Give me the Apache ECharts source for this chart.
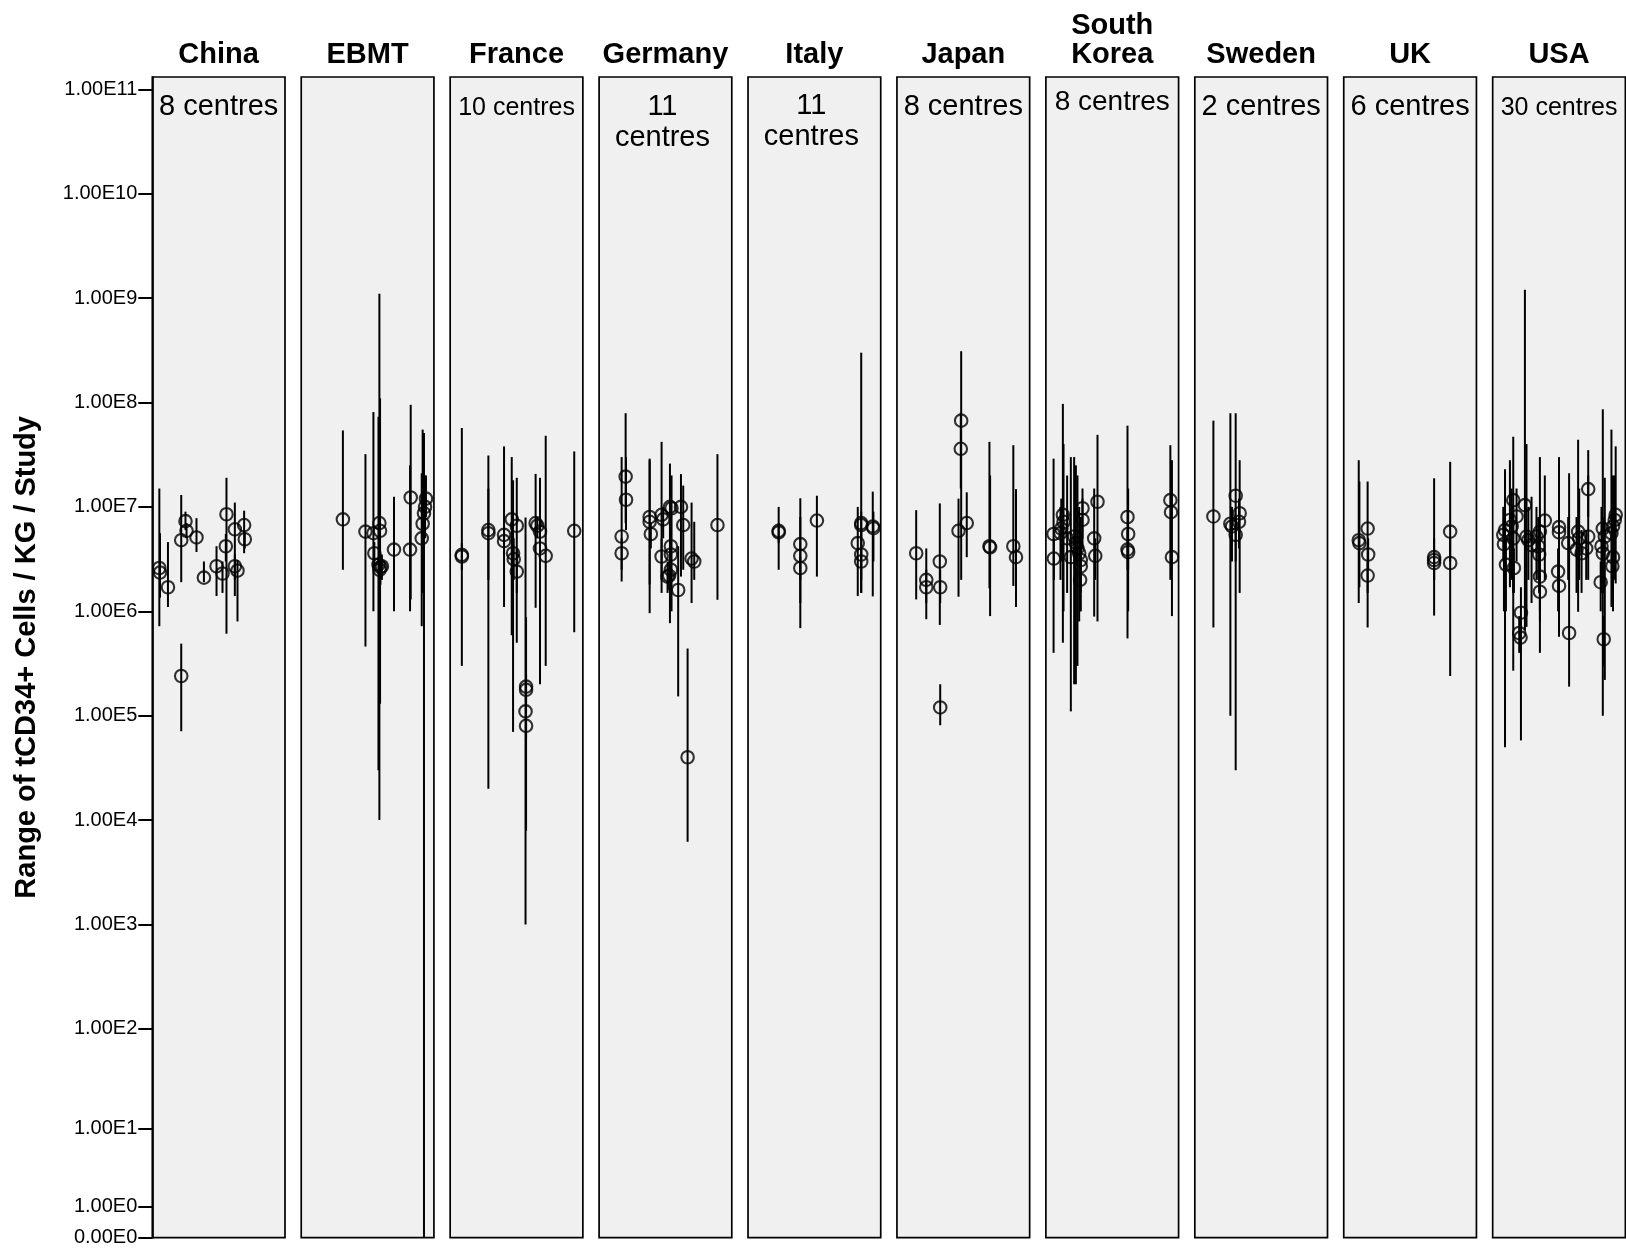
<!DOCTYPE html>
<html>
<head>
<meta charset="utf-8">
<script src="https://cdn.jsdelivr.net/npm/echarts@6/dist/echarts.min.js"></script>
<style>
html,body{margin:0;padding:0;background:#fff;}
#chart{width:1626px;height:1254px;}
</style>
</head>
<body>
<div id="chart"></div>
<script>
// ---------- data ----------
const countries = ['China', 'EBMT', 'France', 'Germany', 'Italy', 'Japan', 'South\nKorea', 'Sweden', 'UK', 'USA'];
const centreNotes = ['8 centres', '', '10 centres', '11\ncentres', '11\ncentres', '8 centres', '8 centres', '2 centres', '6 centres', '30 centres'];
const tickValues = [0, 1, 1e1, 1e2, 1e3, 1e4, 1e5, 1e6, 1e7, 1e8, 1e9, 1e10, 1e11];
const tickLabels = ['0.00E0', '1.00E0', '1.00E1', '1.00E2', '1.00E3', '1.00E4', '1.00E5', '1.00E6', '1.00E7', '1.00E8', '1.00E9', '1.00E10', '1.00E11'];

// each study: [position in panel, cells/kg, range low, range high]
const china = [
  [5.3, 2.6e6, 7.2e5, 1.5e7], [5.8, 2.35e6, 1.35e6, 5.6e6], [11.8, 1.7e6, 1.1e6, 4.6e6],
  [21.8, 4.8e6, 1.9e6, 1.3e7], [25.0, 7.3e6, 6.0e6, 9.0e6], [25.8, 5.9e6, 5.0e6, 7.0e6],
  [33.3, 5.1e6, 3.7e6, 7.8e6], [38.9, 2.1e6, 1.9e6, 3.0e6], [21.8, 2.4e5, 7.1e4, 4.9e5],
  [48.4, 2.7e6, 1.4e6, 4.2e6], [52.9, 2.3e6, 1.5e6, 3.0e6], [55.9, 8.5e6, 6.1e5, 1.9e7],
  [55.4, 4.2e6, 3.0e6, 5.5e6], [62.2, 6.1e6, 1.4e6, 1.1e7], [62.2, 2.7e6, 2.0e6, 3.5e6],
  [64.2, 2.45e6, 8.0e5, 3.1e6], [69.2, 6.7e6, 3.6e6, 9.2e6], [69.7, 4.9e6, 4.0e6, 5.8e6]
];
const ebmt = [
  [31.4, 7.6e6, 2.5e6, 5.4e7], [48.4, 5.8e6, 4.6e5, 3.2e7], [54.4, 5.6e6, 1.0e6, 8.1e7],
  [55.1, 3.6e6, 2.8e6, 4.6e6], [58.9, 7.0e6, 1.0e4, 1.1e9], [59.4, 5.9e6, 1.3e5, 1.1e8],
  [58.2, 2.8e6, 3.0e4, 7.3e7], [59.7, 2.65e6, 1.8e6, 3.5e6], [60.8, 2.7e6, 2.0e6, 3.5e6],
  [59.0, 2.5e6, 1.8e6, 3.2e6], [69.9, 3.9e6, 1.0e6, 1.25e7], [82.5, 1.23e7, 1.3e6, 9.5e7],
  [82.0, 3.9e6, 1.0e6, 2.5e7], [90.8, 5.0e6, 7.2e5, 2.1e7], [91.5, 6.9e6, 1.5e6, 5.5e7],
  [92.5, 8.7e6, 0, 5.1e7], [93.3, 1.0e7, 5.0e6, 2.0e7], [94.0, 1.2e7, 8.0e6, 2.0e7]
];
const france = [
  [8.8, 3.47e6, 3.0e5, 5.7e7], [8.8, 3.35e6, 2.5e6, 4.5e6], [28.8, 6.0e6, 2.0e4, 3.1e7],
  [28.8, 5.6e6, 2.0e6, 1.5e7], [40.6, 5.4e6, 1.1e6, 3.8e7], [40.6, 4.7e6, 3.5e6, 6.0e6],
  [46.4, 7.6e6, 5.9e5, 3.0e7], [47.4, 3.6e6, 7.0e4, 1.8e7], [47.9, 3.16e6, 2.0e6, 5.0e6],
  [50.2, 6.6e6, 5.0e5, 1.9e7], [50.2, 2.4e6, 1.5e6, 4.0e6], [57.2, 1.9e5, 7.9e3, 8.8e5],
  [57.2, 1.77e5, 1.2e5, 2.5e5], [56.8, 1.1e5, 1.0e3, 7.9e6], [57.2, 8.0e4, 6.0e4, 1.0e5],
  [64.4, 7.0e6, 1.08e6, 2.07e7], [65.7, 6.6e6, 5.0e6, 8.0e6], [67.7, 5.8e6, 2.0e5, 1.9e7],
  [67.7, 4.0e6, 3.0e6, 5.0e6], [72.0, 3.4e6, 3.0e5, 4.8e7], [93.5, 5.9e6, 6.3e5, 3.4e7]
];
const germany = [
  [20.0, 1.95e7, 7.0e6, 7.9e7], [20.3, 1.17e7, 6.0e6, 3.0e7], [17.0, 5.2e6, 1.93e6, 3.0e7],
  [17.0, 3.6e6, 2.5e6, 5.0e6], [38.1, 8.0e6, 1.8e6, 2.9e7], [38.1, 7.2e6, 9.6e5, 2.8e7],
  [39.0, 5.5e6, 4.0e6, 7.0e6], [47.1, 8.4e6, 1.5e6, 4.2e7], [48.3, 7.6e6, 5.0e6, 1.0e7],
  [53.4, 1.0e7, 7.7e5, 2.6e7], [54.6, 9.7e6, 1.0e6, 2.0e7], [61.7, 1.0e7, 2.15e6, 2.06e7],
  [63.4, 6.7e6, 2.5e6, 1.6e7], [47.1, 3.35e6, 2.0e6, 5.0e6], [54.1, 4.2e6, 3.0e6, 6.0e6],
  [54.1, 3.5e6, 2.5e6, 5.0e6], [54.1, 2.5e6, 1.8e6, 3.5e6], [51.6, 2.15e6, 1.5e6, 3.0e6],
  [52.8, 2.2e6, 1.6e6, 3.0e6], [59.6, 1.6e6, 1.53e5, 4.2e6], [69.7, 3.2e6, 1.2e6, 1.1e7],
  [71.7, 3.0e6, 2.0e6, 7.2e6], [66.7, 4.0e4, 6.2e3, 4.4e5], [89.2, 6.7e6, 1.29e6, 3.2e7]
];
const italy = [
  [23.1, 5.9e6, 2.5e6, 1.0e7], [23.1, 5.7e6, 4.5e6, 7.0e6], [39.4, 4.4e6, 6.9e5, 1.21e7],
  [39.4, 3.4e6, 1.2e6, 8.0e6], [39.4, 2.6e6, 2.0e6, 3.3e6], [51.9, 7.4e6, 2.15e6, 1.28e7],
  [85.3, 7.0e6, 1.5e6, 3.0e8], [85.3, 6.7e6, 5.0e6, 9.0e6], [82.7, 4.5e6, 1.4e6, 1.0e7],
  [85.3, 3.5e6, 1.5e6, 6.0e6], [85.3, 3.0e6, 2.0e6, 4.0e6], [94.0, 6.5e6, 1.39e6, 1.4e7],
  [94.5, 6.25e6, 3.0e6, 9.0e6]
];
const japan = [
  [14.5, 3.6e6, 1.3e6, 9.3e6], [22.1, 2.0e6, 8.4e5, 4.0e6], [22.1, 1.7e6, 1.2e6, 2.5e6],
  [32.3, 3.0e6, 7.4e5, 1.08e7], [32.6, 1.7e6, 1.2e6, 2.5e6], [32.6, 1.2e5, 8.1e4, 2.0e5],
  [48.4, 6.7e7, 2.0e6, 3.1e8], [48.1, 3.6e7, 1.5e7, 8.0e7], [46.4, 5.9e6, 1.38e6, 1.2e7],
  [52.6, 7.0e6, 3.3e6, 1.38e7], [69.7, 4.2e6, 1.66e6, 4.2e7], [70.2, 4.1e6, 9.0e5, 2.0e7],
  [87.7, 4.2e6, 1.75e6, 3.9e7], [89.7, 3.3e6, 1.1e6, 1.48e7]
];
const southKorea = [
  [5.8, 5.5e6, 4.0e5, 2.9e7], [6.0, 3.2e6, 2.0e6, 5.0e6], [12.8, 8.4e6, 5.0e5, 9.7e7],
  [13.3, 7.2e6, 1.0e6, 4.0e7], [11.6, 6.2e6, 3.0e6, 1.2e7], [11.0, 5.6e6, 2.0e6, 1.0e7],
  [16.0, 5.0e6, 1.5e6, 2.0e7], [18.8, 3.3e6, 1.1e5, 3.0e7], [21.3, 5.2e6, 2.0e5, 3.0e7],
  [22.6, 4.5e6, 2.0e5, 2.5e7], [23.8, 4.0e6, 3.0e5, 2.0e7], [25.1, 3.6e6, 8.0e5, 1.0e7],
  [26.3, 3.1e6, 1.0e6, 8.0e6], [26.3, 2.7e6, 1.5e6, 5.0e6], [25.8, 2.0e6, 1.0e6, 3.0e6],
  [27.6, 9.7e6, 5.0e6, 1.5e7], [27.6, 7.5e6, 4.0e6, 1.2e7], [36.4, 5.0e6, 8.9e5, 1.5e7],
  [37.2, 3.4e6, 2.0e6, 5.0e6], [38.9, 1.12e7, 8.0e5, 4.9e7], [61.5, 8.0e6, 5.5e5, 6.0e7],
  [62.0, 5.5e6, 1.0e6, 1.5e7], [61.5, 3.9e6, 2.5e6, 6.0e6], [62.0, 3.7e6, 2.5e6, 5.0e6],
  [93.8, 1.16e7, 2.0e6, 3.9e7], [94.3, 8.9e6, 4.0e6, 2.0e7], [95.0, 3.3e6, 9.0e5, 2.8e7]
];
const sweden = [
  [14.0, 8.1e6, 7.0e5, 6.7e7], [30.8, 1.28e7, 3.0e4, 7.9e7], [33.8, 8.7e6, 1.5e6, 2.8e7],
  [33.3, 7.2e6, 4.0e6, 1.2e7], [26.8, 6.9e6, 1.0e5, 7.9e7], [28.0, 6.5e6, 3.0e6, 1.0e7],
  [30.8, 5.4e6, 3.0e6, 8.0e6]
];
const uk = [
  [11.3, 4.8e6, 1.2e6, 2.8e7], [11.8, 4.5e6, 1.7e6, 1.75e7], [18.0, 6.2e6, 7.0e5, 1.75e7],
  [18.4, 3.5e6, 2.5e6, 5.0e6], [18.0, 2.2e6, 1.5e6, 3.0e6], [68.1, 3.3e6, 9.1e5, 1.88e7],
  [68.1, 3.1e6, 2.0e6, 5.0e6], [68.1, 2.9e6, 2.0e6, 4.0e6], [80.2, 5.8e6, 3.0e6, 2.7e7],
  [80.2, 2.9e6, 2.4e5, 5.0e6]
];
const usa = [
  [9.3, 6.0e6, 5.0e4, 2.3e7], [8.0, 5.4e6, 3.0e6, 1.0e7], [8.5, 4.4e6, 1.0e6, 1.0e7],
  [10.0, 2.8e6, 1.0e6, 5.0e6], [15.5, 1.16e7, 2.7e5, 4.7e7], [13.0, 7.5e6, 1.7e6, 2.8e7],
  [14.3, 6.5e6, 2.0e6, 1.5e7], [15.5, 5.0e6, 1.5e6, 1.0e7], [16.0, 2.6e6, 1.5e6, 4.0e6],
  [18.0, 8.1e6, 3.0e6, 1.5e7], [24.3, 1.04e7, 6.6e5, 1.2e9], [21.3, 9.7e5, 5.8e4, 1.7e6],
  [20.0, 6.2e5, 4.0e5, 9.0e5], [21.0, 5.6e5, 4.0e5, 8.0e5], [25.5, 5.2e6, 7.1e5, 4.0e7],
  [26.9, 4.8e6, 2.0e6, 1.0e7], [29.3, 4.3e6, 1.2e6, 1.25e7], [35.6, 5.8e6, 4.0e5, 3.0e7],
  [39.3, 7.4e6, 2.0e6, 2.0e7], [33.0, 5.2e6, 2.0e6, 1.0e7], [35.0, 3.5e6, 1.5e6, 8.0e6],
  [35.6, 2.15e6, 1.0e6, 4.0e6], [35.6, 1.54e6, 8.0e5, 3.0e6], [34.4, 4.2e6, 2.0e6, 8.0e6],
  [50.0, 6.4e6, 5.7e5, 3.0e7], [50.0, 5.7e6, 7.0e5, 1.2e7], [49.3, 2.4e6, 1.0e6, 4.0e6],
  [50.0, 1.75e6, 1.0e6, 3.0e6], [57.6, 6.2e5, 1.9e5, 2.1e7], [56.9, 4.5e6, 2.0e6, 8.0e6],
  [64.4, 5.8e6, 9.9e5, 4.4e7], [65.2, 5.0e6, 2.0e6, 1.5e7], [63.2, 3.9e6, 1.5e6, 8.0e6],
  [67.0, 3.6e6, 1.5e6, 6.0e6], [72.0, 5.2e6, 2.0e6, 3.5e7], [72.0, 1.48e7, 8.0e6, 2.0e7],
  [70.5, 4.0e6, 2.0e6, 6.0e6], [92.7, 8.4e6, 1.85e6, 3.8e7], [92.0, 7.5e6, 2.0e6, 2.0e7],
  [90.7, 6.5e6, 1.0e6, 2.0e7], [89.5, 5.6e6, 1.1e6, 5.5e7], [83.0, 6.2e6, 1.0e5, 8.6e7],
  [84.5, 5.2e6, 2.2e5, 1.9e7], [82.0, 4.2e6, 1.5e6, 1.0e7], [83.0, 3.6e6, 1.5e6, 8.0e6],
  [90.7, 3.3e6, 1.5e6, 8.0e6], [90.2, 2.7e6, 1.5e6, 5.0e6], [81.4, 1.9e6, 1.0e6, 3.0e6],
  [83.7, 5.4e5, 3.0e5, 9.0e5]
];
const panels = [china, ebmt, france, germany, italy, japan, southKorea, sweden, uk, usa];

// ---------- scale: "safe log" log10(1 + v) ----------
const sl = v => Math.log10(1 + v);
const tickPos = tickValues.map(sl);

// ---------- layout ----------
const FONT = "'Liberation Sans', Arial, sans-serif";
const P_LEFT = 152.3, P_STEP = 148.93, P_W = 132.7, P_TOP = 77, P_H = 1160.7;
const Y_MAX = P_H / 104.4;

const grids = [], xAxes = [], yAxes = [], series = [], graphics = [];
panels.forEach((rows, i) => {
  grids.push({
    left: P_LEFT + i * P_STEP, top: P_TOP, width: P_W, height: P_H,
    show: true, backgroundColor: '#f0f0f0', borderColor: '#000', borderWidth: 1.7
  });
  xAxes.push({ gridIndex: i, type: 'value', min: 0, max: 100, show: false });
  const ya = { gridIndex: i, type: 'value', min: 0, max: Y_MAX, show: i === 0, splitLine: { show: false } };
  if (i === 0) {
    Object.assign(ya, {
      axisLine: { show: true, lineStyle: { color: '#000', width: 1.7 } },
      axisTick: { show: true, customValues: tickPos, length: 14, inside: false, lineStyle: { color: '#000', width: 2 } },
      axisLabel: {
        show: true, customValues: tickPos, margin: 15, color: '#000', fontSize: 20, fontFamily: FONT,
        formatter: v => {
          let best = 0;
          tickPos.forEach((p, k) => { if (Math.abs(p - v) < Math.abs(tickPos[best] - v)) best = k; });
          return tickLabels[best];
        }
      },
      name: 'Range of tCD34+ Cells / KG / Study', nameLocation: 'middle', nameGap: 111,
      nameTextStyle: { color: '#000', fontSize: 29, fontWeight: 'bold', fontFamily: FONT }
    });
  }
  yAxes.push(ya);
  series.push({
    type: 'custom', xAxisIndex: i, yAxisIndex: i, silent: true, z: 2,
    data: rows.map(r => [r[0], sl(r[2]), sl(r[3])]),
    encode: { x: 0, y: [1, 2] },
    renderItem: (params, api) => {
      const a = api.coord([api.value(0), api.value(1)]);
      const b = api.coord([api.value(0), api.value(2)]);
      return { type: 'line', shape: { x1: a[0], y1: a[1], x2: b[0], y2: b[1] },
               style: { stroke: '#000', lineWidth: 2 } };
    }
  });
  series.push({
    type: 'scatter', xAxisIndex: i, yAxisIndex: i, silent: true, z: 3,
    symbol: 'circle', symbolSize: 12.5,
    itemStyle: { color: 'rgba(0,0,0,0)', borderColor: '#000', borderWidth: 2.1 },
    data: rows.map(r => [r[0], sl(r[1])])
  });
  const cx = P_LEFT + i * P_STEP + P_W / 2;
  const twoLine = countries[i].indexOf('\n') >= 0;
  graphics.push({
    type: 'text', silent: true,
    style: { text: countries[i], x: cx, y: twoLine ? 40 : 54.5, textAlign: 'center', textVerticalAlign: 'middle',
             font: 'bold 29px ' + FONT, lineHeight: 29, fill: '#000' }
  });
  const note = centreNotes[i];
  if (note) {
    const small = note.indexOf('10 ') === 0 || note.indexOf('30 ') === 0;
    const multi = note.indexOf('\n') >= 0;
    let y = 107;
    if (multi) y = i === 3 ? 122.5 : 121.5;
    if (i === 6) y = 102.5;
    if (small) y = 108;
    graphics.push({
      type: 'text', silent: true,
      style: { text: note, x: cx - (multi ? 3 : 0), y: y, textAlign: 'center', textVerticalAlign: 'middle',
               font: (small ? '25px ' : (i === 6 ? '28px ' : '29px ')) + FONT, lineHeight: 31, fill: '#000' }
    });
  }
});

const chart = echarts.init(document.getElementById('chart'), null, { renderer: 'canvas' });
chart.setOption({
  animation: false,
  backgroundColor: '#fff',
  grid: grids, xAxis: xAxes, yAxis: yAxes, series: series, graphic: graphics
});
</script>
</body>
</html>
